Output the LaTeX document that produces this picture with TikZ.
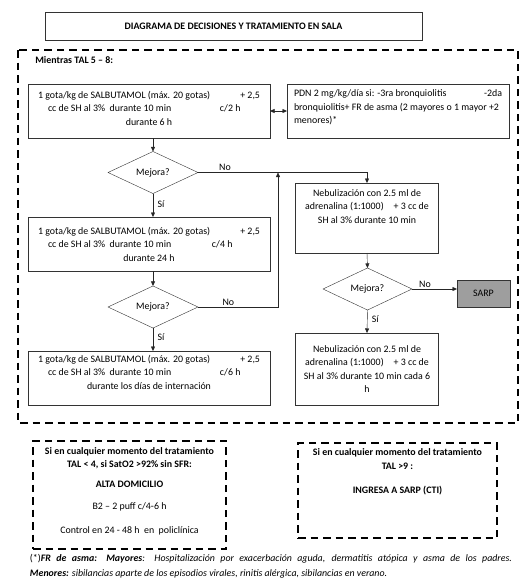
\documentclass[tikz,border=0pt]{standalone}
\usepackage{fontspec}
\setmainfont{Carlito}
\usetikzlibrary{shapes.geometric, arrows.meta, positioning}

\newcommand{\basefont}{\fontsize{9.9}{13.5}\selectfont}

% text of the three salbutamol boxes
\newcommand{\salbdose}[3]{%
  \makebox[222pt]{1 gota/kg de SALBUTAMOL (máx. 20 gotas)\hfill + 2,5}\\
  \makebox[222pt][l]{\hspace{10pt}cc de SH al 3\%~ durante 10 min\hfill\makebox[#2][l]{#1}}\\
  #3}

\begin{document}
\begin{tikzpicture}[
    x=1pt, y=-1pt,
    font=\basefont,
    every node/.style={outer sep=0pt},
    stepbox/.style={
      draw=black!80,
      align=center,
      minimum width=242,
      minimum height=54,
      inner sep=0pt
    },
    nebbox/.style={
      draw=black!80,
      align=center,
      minimum width=143,
      inner sep=0pt
    },
    decision/.style={
      draw=black!80,
      diamond,
      minimum width=90,
      minimum height=36,
      inner sep=0pt
    },
    notebox/.style={
      draw,
      line width=1.4pt,
      dash pattern=on 7.5pt off 5pt,
      align=center,
      inner sep=0pt
    },
    arrow/.style={-{Triangle[length=4.5pt,width=4pt]}, draw=black!85},
    lbl/.style={inner sep=1.5pt},
    sidelbl/.style={inner sep=1.5pt, right, xshift=3pt}
  ]
    \useasboundingbox (0,0) rectangle (532,582);

    \node[draw=black!80, minimum width=377, minimum height=28, font=\basefont\bfseries] (title) at (233.5,26) {DIAGRAMA DE DECISIONES Y TRATAMIENTO EN SALA};

    \draw[line width=1.4pt, dash pattern=on 7.5pt off 5pt] (18,50) rectangle (518,423);
    \node[anchor=west, font=\basefont\bfseries] (mientras) at (32,60) {Mientras TAL 5 -- 8:};

    % left column
    \node[stepbox] (salb1) at (149,111) {\salbdose{c/2 h}{40pt}{durante 6 h\hspace{20pt}}\\[-7.5pt]~};
    \node[decision] (mej1) at (153,172.5) {Mejora?};
    \node[stepbox] (salb2) at (149,244) {\salbdose{c/4 h}{48pt}{durante 24 h\hspace{20pt}}};
    \node[decision] (mej2) at (153,307) {Mejora?};
    \node[stepbox] (salb3) at (149,378) {\salbdose{c/6 h}{40pt}{durante los días de internación}\\[-1.5pt]~};

    % right column
    \node[stepbox, minimum width=222, align=left] (pdn) at (398,111) {\makebox[208pt]{PDN 2 mg/kg/día si: -3ra bronquiolitis\hfill -2da}\\
      bronquiolitis+ FR de asma (2 mayores o 1 mayor +2\\
      menores)*\\[-5.5pt]~};
    \node[nebbox, minimum height=70] (neb1) at (367,218) {Nebulización con 2.5 ml de\\
      adrenalina (1:1000)\quad + 3 cc de\\
      SH al 3\% durante 10 min\\[9.5pt]~};
    \node[decision, minimum width=89] (mej3) at (367.5,289) {Mejora?};
    \node[draw=black!80, fill=black!38, minimum width=53, minimum height=27] (sarp) at (483.5,293.5) {SARP};
    \node[nebbox, minimum height=72] (neb2) at (367,369) {Nebulización con 2.5 ml de\\
      adrenalina (1:1000)\quad + 3 cc de\\
      SH al 3\% durante 10 min cada 6\\
      h};

    \coordinate (back) at (278,0);

    \draw[{Triangle[length=4.5pt,width=4pt]}-{Triangle[length=4.5pt,width=4pt]}, draw=black!85] (salb1) -- (pdn);
    \draw[arrow] (salb1.south -| mej1) -- (mej1.north);
    \draw[arrow] (mej1.east) -| node[lbl, above, pos=0.08] {No} (neb1.north);
    \draw[arrow] (mej1.south) -- node[sidelbl, pos=0.44] {Sí} (salb2.north -| mej1);
    \draw[arrow] (salb2.south -| mej2) -- (mej2.north);
    \draw[arrow] (mej2.east) -| node[lbl, above, pos=0.19] {No} (back |- mej1.east);
    \draw[arrow] (mej2.south) -- node[sidelbl, pos=0.38] {Sí} (salb3.north -| mej2);
    \draw[arrow] (neb1.south) -- (mej3.north);
    \draw[arrow] (mej3.east) -- node[lbl, above, pos=0.29] {No} (mej3.east -| sarp.west);
    \draw[arrow] (mej3.south) -- node[sidelbl, pos=0.38] {Sí} (neb2.north);

    % bottom notes
    \node[notebox, minimum width=193, minimum height=108] (alta) at (129.5,495) {\textbf{Si en cualquier momento del tratamiento}\\
      \textbf{TAL < 4, si SatO2 >92\% sin SFR:}\\[6.5pt]
      \textbf{ALTA DOMICILIO}\\[8.5pt]
      B2 -- 2 puff c/4-6 h\\[10.5pt]
      Control en 24 - 48 h~ en~ policlínica\\[-4.5pt]~};
    \node[notebox, minimum width=199, minimum height=95] (cti) at (397.5,490.5) {\textbf{Si en cualquier momento del tratamiento}\\
      \textbf{TAL >9 :}\\[11pt]
      \textbf{INGRESA A SARP (CTI)}\\[25pt]~};

    \node[anchor=west, align=left, inner sep=0pt, font=\fontsize{9.9}{15}\selectfont] (nota) at (30,566.5) {\makebox[482pt][s]{(*)\textbf{\textit{FR de asma: Mayores}}\textit{: Hospitalización por exacerbación aguda, dermatitis atópica y asma de los padres.}}\\
      \textbf{\textit{Menores:}}\textit{ sibilancias aparte de los episodios virales, rinitis alérgica, sibilancias en verano.}};
\end{tikzpicture}
\end{document}
